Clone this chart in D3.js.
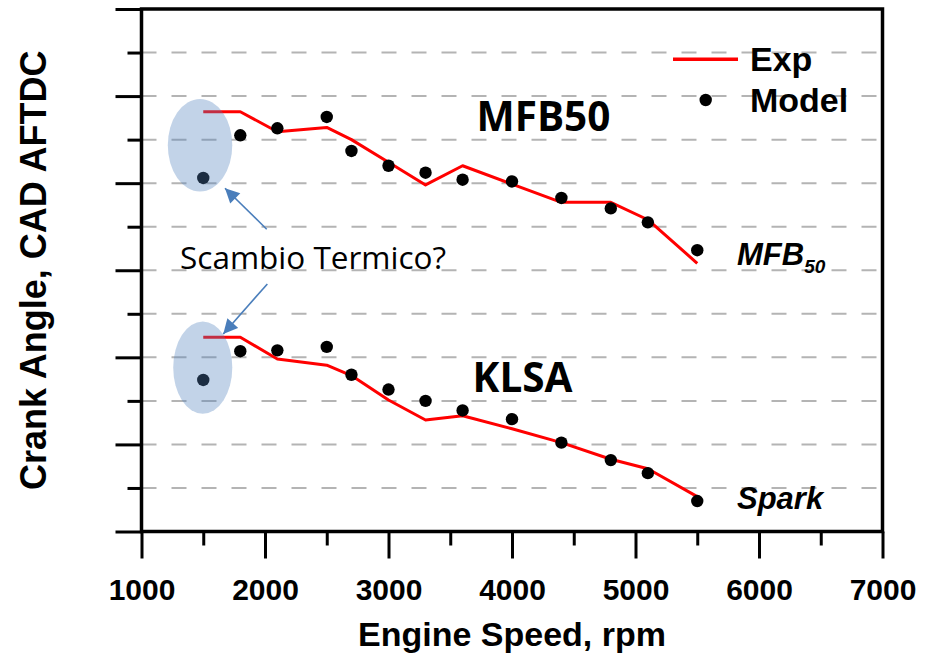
<!DOCTYPE html>
<html>
<head>
<meta charset="utf-8">
<script src="https://cdn.jsdelivr.net/npm/d3@7"></script>
<style>
  html, body { margin: 0; padding: 0; background: #fff; }
  svg { display: block; }
</style>
</head>
<body>
<svg id="chart" width="930" height="653"></svg>
<script>
// Engine speed sweep (rpm)
const rpm = [1500, 1800, 2100, 2500, 2700, 3000, 3300, 3600, 4000, 4400, 4800, 5100, 5500];

// 50% mass fraction burned angle
const mfb50Exp   = [48.2, 48.2, 45.9, 46.4, 45.0, 42.4, 39.8, 42.0, 39.9, 37.8, 37.8, 35.8, 30.8];
const mfb50Model = [40.6, 45.5, 46.3, 47.6, 43.7, 42.0, 41.2, 40.4, 40.2, 38.3, 37.1, 35.5, 32.3];

// Knock-limited spark advance
const klsaExp    = [22.3, 22.3, 19.8, 19.1, 17.9, 15.1, 12.8, 13.3, 11.8, 10.2, 8.3, 7.2, 4.0];
const klsaModel  = [17.4, 20.7, 20.8, 21.2, 18.0, 16.3, 15.0, 13.9, 12.9, 10.2, 8.2, 6.7, 3.5];

// Axis ticks
const xMajorTicks = [1000, 2000, 3000, 4000, 5000, 6000, 7000];
const xMinorTicks = [1500, 2500, 3500, 4500, 5500, 6500];
const yMajorTicks = [0, 10, 20, 30, 40, 50, 60];
const yMinorTicks = [5, 15, 25, 35, 45, 55];
const yGridTicks  = [5, 10, 15, 20, 25, 30, 35, 40, 45, 50, 55];

const svg = d3.select("#chart");
const m = { left: 141.5, right: 882.5, top: 9, bottom: 531.5 };

const x = d3.scaleLinear().domain([1000, 7000]).range([m.left, m.right]);
const y = d3.scaleLinear().domain([0, 60]).range([m.bottom, m.top]);

const boldFont = "'Liberation Sans', Arial, sans-serif";

// Dashed horizontal gridlines
svg.append("g")
  .selectAll("line")
  .data(yGridTicks)
  .join("line")
  .attr("x1", m.left).attr("x2", m.right)
  .attr("y1", d => y(d)).attr("y2", d => y(d))
  .attr("stroke", "#b4b4b4")
  .attr("stroke-width", 2)
  .attr("stroke-dasharray", "15,15");

// X axis: minor and major ticks
const xMinor = svg.append("g")
  .attr("transform", `translate(0,${m.bottom})`)
  .call(d3.axisBottom(x).tickValues(xMinorTicks).tickSize(14).tickFormat(""));
const xMajor = svg.append("g")
  .attr("transform", `translate(0,${m.bottom})`)
  .call(d3.axisBottom(x).tickValues(xMajorTicks).tickSize(27).tickPadding(20).tickFormat(d3.format("d")));

// Y axis: minor and major ticks (no labels)
const yMinor = svg.append("g")
  .attr("transform", `translate(${m.left},0)`)
  .call(d3.axisLeft(y).tickValues(yMinorTicks).tickSize(14).tickFormat(""));
const yMajor = svg.append("g")
  .attr("transform", `translate(${m.left},0)`)
  .call(d3.axisLeft(y).tickValues(yMajorTicks).tickSize(26).tickFormat(""));

[xMinor, xMajor, yMinor, yMajor].forEach(g => {
  g.select(".domain").remove();
  g.selectAll(".tick line").attr("stroke", "#000").attr("stroke-width", 3);
});
xMajor.selectAll(".tick text")
  .attr("fill", "#000")
  .style("font-family", boldFont)
  .style("font-weight", "bold")
  .style("font-size", "30px");

// Plot frame
svg.append("rect")
  .attr("x", m.left).attr("y", m.top)
  .attr("width", m.right - m.left).attr("height", m.bottom - m.top)
  .attr("fill", "none")
  .attr("stroke", "#000")
  .attr("stroke-width", 3.5);

// Experimental curves
const line = d3.line().x(d => x(d[0])).y(d => y(d[1]));
[mfb50Exp, klsaExp].forEach(vals => {
  svg.append("path")
    .datum(d3.zip(rpm, vals))
    .attr("d", line)
    .attr("fill", "none")
    .attr("stroke", "#ff0000")
    .attr("stroke-width", 3)
    .attr("stroke-linejoin", "round");
});

// Model points
[mfb50Model, klsaModel].forEach(vals => {
  svg.append("g")
    .selectAll("circle")
    .data(d3.zip(rpm, vals))
    .join("circle")
    .attr("cx", d => x(d[0]))
    .attr("cy", d => y(d[1]))
    .attr("r", 6.2)
    .attr("fill", "#000");
});

// Highlight of the 1500 rpm points
const highlights = [
  { cx: 1474, cy: 44.35, rx: 261, ry: 5.31 },
  { cx: 1496, cy: 18.82, rx: 239, ry: 5.30 }
];
svg.append("g")
  .selectAll("ellipse")
  .data(highlights)
  .join("ellipse")
  .attr("cx", d => x(d.cx))
  .attr("cy", d => y(d.cy))
  .attr("rx", d => x(1000 + d.rx) - x(1000))
  .attr("ry", d => y(0) - y(d.ry))
  .attr("fill", "#4f81bd")
  .attr("fill-opacity", 0.35);

// Arrows pointing to the highlights
svg.append("defs").append("marker")
  .attr("id", "arrowhead")
  .attr("viewBox", "0 0 10 10")
  .attr("refX", 10).attr("refY", 5)
  .attr("markerWidth", 10).attr("markerHeight", 9)
  .attr("markerUnits", "strokeWidth")
  .attr("orient", "auto")
  .append("path")
  .attr("d", "M0,0 L10,5 L0,10 Z")
  .attr("fill", "#4a7ebb");

const arrows = [
  { x1: 2014, y1: 34.71, x2: 1676, y2: 39.42 },
  { x1: 2019, y1: 28.43, x2: 1662, y2: 22.69 }
];
svg.append("g")
  .selectAll("line")
  .data(arrows)
  .join("line")
  .attr("x1", d => x(d.x1)).attr("y1", d => y(d.y1))
  .attr("x2", d => x(d.x2)).attr("y2", d => y(d.y2))
  .attr("stroke", "#4a7ebb")
  .attr("stroke-width", 1.6)
  .attr("marker-end", "url(#arrowhead)");

// Annotations
svg.append("text")
  .attr("x", x(1312)).attr("y", y(30.12))
  .style("font-family", "'Open Sans', sans-serif")
  .style("font-size", "31.5px")
  .attr("fill", "#000")
  .text("Scambio Termico?");

svg.append("text")
  .attr("x", 476.5).attr("y", 130.7)
  .style("font-family", "'Open Sans', sans-serif")
  .style("font-weight", "bold")
  .style("font-size", "40.5px")
  .attr("fill", "#000")
  .text("MFB50");

svg.append("text")
  .attr("x", 472.5).attr("y", 391.5)
  .style("font-family", "'Open Sans', sans-serif")
  .style("font-weight", "bold")
  .style("font-size", "40.5px")
  .attr("fill", "#000")
  .text("KLSA");

const mfbLabel = svg.append("text")
  .attr("x", 737).attr("y", 265)
  .style("font-family", boldFont)
  .style("font-weight", "bold")
  .style("font-style", "italic")
  .style("font-size", "31px")
  .attr("fill", "#000");
mfbLabel.append("tspan").text("MFB");
mfbLabel.append("tspan").attr("dy", 8).style("font-size", "19px").text("50");

svg.append("text")
  .attr("x", 737).attr("y", 508.5)
  .style("font-family", boldFont)
  .style("font-weight", "bold")
  .style("font-style", "italic")
  .style("font-size", "31px")
  .attr("fill", "#000")
  .text("Spark");

// Legend
const legend = svg.append("g");
legend.append("line")
  .attr("x1", 673).attr("x2", 738)
  .attr("y1", 59.3).attr("y2", 59.3)
  .attr("stroke", "#ff0000").attr("stroke-width", 3.5);
legend.append("circle")
  .attr("cx", 705.7).attr("cy", 100).attr("r", 6.2).attr("fill", "#000");
legend.selectAll("text")
  .data([["Exp", 71], ["Model", 111.7]])
  .join("text")
  .attr("x", 750).attr("y", d => d[1])
  .style("font-family", boldFont)
  .style("font-weight", "bold")
  .style("font-size", "34px")
  .attr("fill", "#000")
  .text(d => d[0]);

// Axis titles
svg.append("text")
  .attr("x", (m.left + m.right) / 2).attr("y", 646)
  .attr("text-anchor", "middle")
  .style("font-family", boldFont)
  .style("font-weight", "bold")
  .style("font-size", "34px")
  .attr("fill", "#000")
  .text("Engine Speed, rpm");

svg.append("text")
  .attr("transform", `translate(45.5,${(m.top + m.bottom) / 2}) rotate(-90)`)
  .attr("text-anchor", "middle")
  .style("font-family", boldFont)
  .style("font-weight", "bold")
  .style("font-size", "36px")
  .attr("fill", "#000")
  .text("Crank Angle, CAD AFTDC");
</script>
</body>
</html>
